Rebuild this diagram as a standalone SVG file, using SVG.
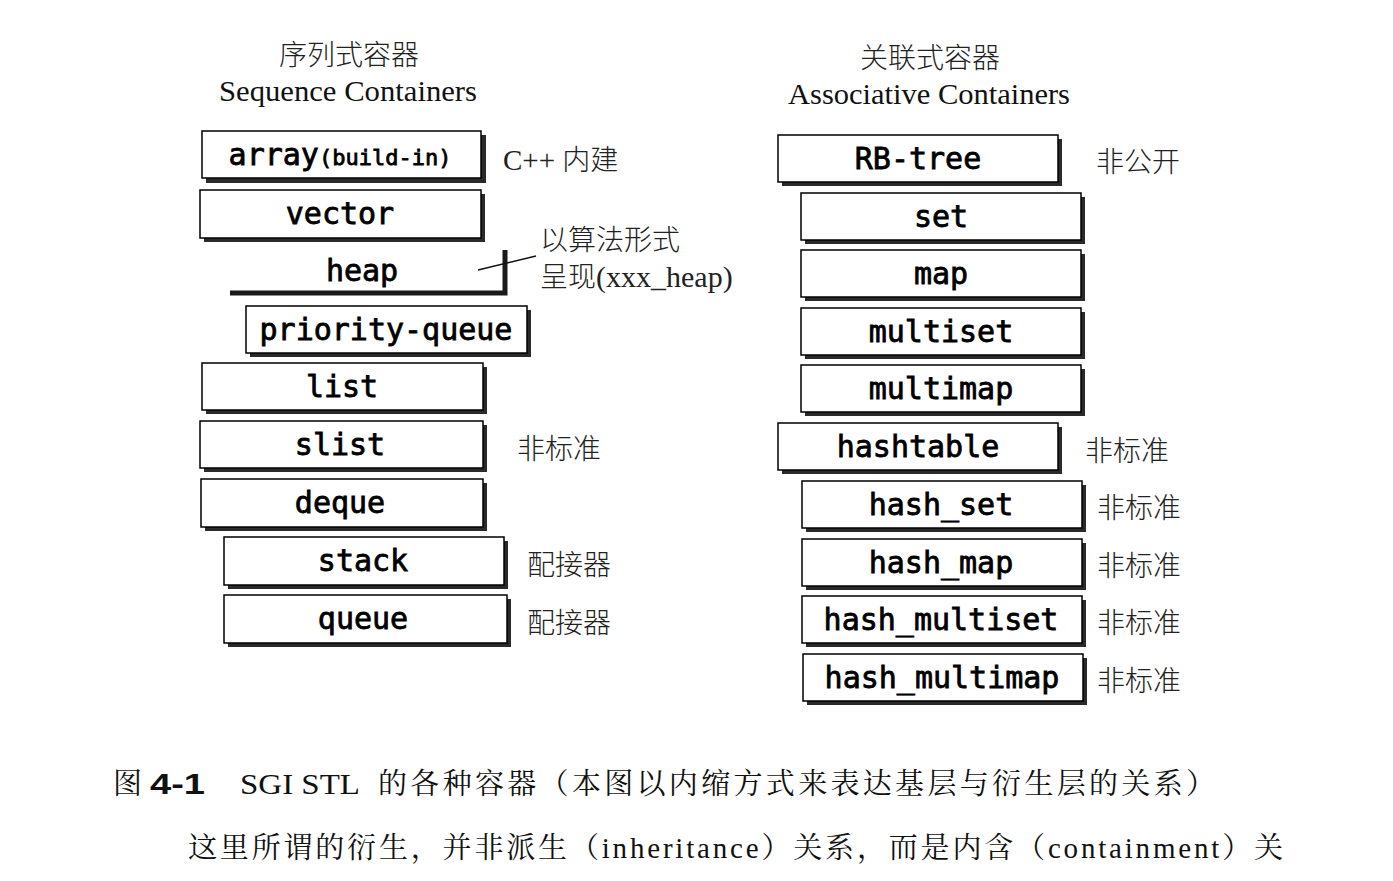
<svg xmlns="http://www.w3.org/2000/svg" width="1393" height="881" viewBox="0 0 1393 881">
<style>
.sh{fill:#2a2a2a}
.bx{fill:#fff;stroke:#000;stroke-width:1.5}
.t{font-family:"DejaVu Sans Mono","Liberation Mono",monospace;font-size:30px;font-weight:normal;text-anchor:middle;fill:#000;stroke:#000;stroke-width:0.8}
.lbl{font-family:"Noto Sans CJK SC",sans-serif;font-size:28px;font-weight:300;fill:#222}
.hd{font-family:"Noto Sans CJK SC",sans-serif;font-size:28px;font-weight:300;fill:#222;text-anchor:middle}
.en{font-family:"Liberation Serif","Noto Sans CJK SC",serif;font-size:29px;fill:#111}
.cap{font-family:"Liberation Serif","Noto Serif CJK SC","Noto Sans CJK SC",serif;font-size:29px;fill:#111}
.capb{font-family:"Liberation Sans",sans-serif;font-size:30px;font-weight:bold;fill:#111}
</style>
<rect width="1393" height="881" fill="#fff"/>
<g id="headers">
<text class="hd" x="349" y="65">序列式容器</text>
<text class="en" x="219" y="101" textLength="258" lengthAdjust="spacingAndGlyphs">Sequence Containers</text>
<text class="hd" x="930" y="68">关联式容器</text>
<text class="en" x="788" y="104" textLength="282" lengthAdjust="spacingAndGlyphs">Associative Containers</text>
</g>
<g id="n-array"><rect class="sh" x="206" y="135" width="280" height="48"/><rect class="bx" x="202" y="131" width="279" height="47"/><text class="t" x="340" y="165"><tspan>array</tspan><tspan font-size="22px">(build-in)</tspan></text></g>
<g id="n-vector"><rect class="sh" x="204" y="194" width="281" height="48"/><rect class="bx" x="200" y="190" width="281" height="48"/><text class="t" x="340" y="224">vector</text></g>
<g id="n-heap"><path d="M230 293 H505 V250" fill="none" stroke="#1a1a1a" stroke-width="5"/><text class="t" x="362" y="281">heap</text></g>
<g id="n-priority-queue"><rect class="sh" x="250" y="310" width="281" height="47"/><rect class="bx" x="246" y="306" width="281" height="47"/><text class="t" x="386" y="340">priority-queue</text></g>
<g id="n-list"><rect class="sh" x="206" y="367" width="281" height="47"/><rect class="bx" x="202" y="363" width="281" height="47"/><text class="t" x="342" y="397">list</text></g>
<g id="n-slist"><rect class="sh" x="204" y="425" width="283" height="47"/><rect class="bx" x="200" y="421" width="283" height="47"/><text class="t" x="340" y="455">slist</text></g>
<g id="n-deque"><rect class="sh" x="205" y="483" width="282" height="48"/><rect class="bx" x="201" y="479" width="282" height="48"/><text class="t" x="340" y="513">deque</text></g>
<g id="n-stack"><rect class="sh" x="228" y="541" width="280" height="48"/><rect class="bx" x="224" y="537" width="280" height="48"/><text class="t" x="363" y="571">stack</text></g>
<g id="n-queue"><rect class="sh" x="228" y="599" width="283" height="48"/><rect class="bx" x="224" y="595" width="283" height="48"/><text class="t" x="363" y="629">queue</text></g>

<g id="n-rbtree"><rect class="sh" x="782" y="139" width="280" height="47"/><rect class="bx" x="778" y="135" width="280" height="47"/><text class="t" x="918" y="169">RB-tree</text></g>
<g id="n-set"><rect class="sh" x="805" y="197" width="280" height="47"/><rect class="bx" x="801" y="193" width="280" height="47"/><text class="t" x="941" y="227">set</text></g>
<g id="n-map"><rect class="sh" x="805" y="254" width="280" height="47"/><rect class="bx" x="801" y="250" width="280" height="47"/><text class="t" x="941" y="284">map</text></g>
<g id="n-multiset"><rect class="sh" x="805" y="312" width="280" height="47"/><rect class="bx" x="801" y="308" width="280" height="47"/><text class="t" x="941" y="342">multiset</text></g>
<g id="n-multimap"><rect class="sh" x="805" y="369" width="280" height="47"/><rect class="bx" x="801" y="365" width="280" height="47"/><text class="t" x="941" y="399">multimap</text></g>
<g id="n-hashtable"><rect class="sh" x="782" y="427" width="280" height="47"/><rect class="bx" x="778" y="423" width="280" height="47"/><text class="t" x="918" y="457">hashtable</text></g>
<g id="n-hash_set"><rect class="sh" x="806" y="485" width="280" height="47"/><rect class="bx" x="802" y="481" width="280" height="47"/><text class="t" x="941" y="515">hash_set</text></g>
<g id="n-hash_map"><rect class="sh" x="806" y="543" width="280" height="47"/><rect class="bx" x="802" y="539" width="280" height="47"/><text class="t" x="941" y="573">hash_map</text></g>
<g id="n-hash_multiset"><rect class="sh" x="806" y="600" width="280" height="47"/><rect class="bx" x="802" y="596" width="280" height="47"/><text class="t" x="941" y="630">hash_multiset</text></g>
<g id="n-hash_multimap"><rect class="sh" x="807" y="658" width="280" height="47"/><rect class="bx" x="803" y="654" width="280" height="47"/><text class="t" x="942" y="688">hash_multimap</text></g>

<g id="connectors"><path d="M478 270 L536 256" fill="none" stroke="#111" stroke-width="1.5"/></g>

<g id="labels">
<text class="lbl" x="503" y="170"><tspan font-family="Liberation Serif,serif" font-size="29px" font-weight="normal">C++ </tspan>内建</text>
<text class="lbl" x="540" y="250">以算法形式</text>
<text class="lbl" x="540" y="287">呈现<tspan font-family="Liberation Serif,serif" font-size="30px" font-weight="normal">(xxx_heap)</tspan></text>
<text class="lbl" x="517" y="459">非标准</text>
<text class="lbl" x="527" y="575">配接器</text>
<text class="lbl" x="527" y="633">配接器</text>
<text class="lbl" x="1096" y="172">非公开</text>
<text class="lbl" x="1085" y="461">非标准</text>
<text class="lbl" x="1097" y="518">非标准</text>
<text class="lbl" x="1097" y="576">非标准</text>
<text class="lbl" x="1097" y="633">非标准</text>
<text class="lbl" x="1097" y="691">非标准</text>
</g>
<g id="caption">
<text class="cap" x="113" y="794">图</text>
<text class="capb" x="150" y="794" textLength="55" lengthAdjust="spacingAndGlyphs">4-1</text>
<text class="cap" x="240" y="794" textLength="120" lengthAdjust="spacingAndGlyphs">SGI STL</text>
<text class="cap" x="378" y="794" textLength="837" lengthAdjust="spacing">的各种容器（本图以内缩方式来表达基层与衍生层的关系）</text>
<text class="cap" x="188" y="858" textLength="1095" lengthAdjust="spacing">这里所谓的衍生，并非派生（inheritance）关系，而是内含（containment）关</text>
</g>
</svg>
